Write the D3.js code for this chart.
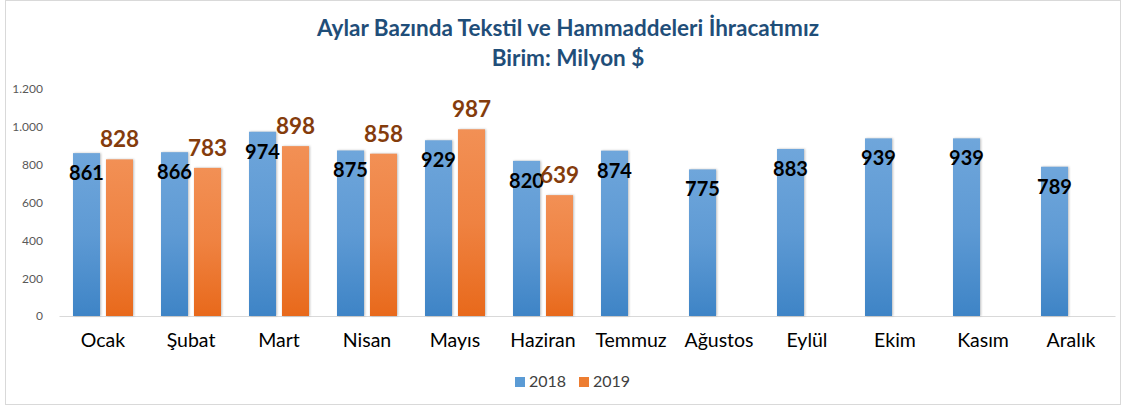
<!DOCTYPE html>
<html lang="tr">
<head>
  <meta charset="UTF-8" />
  <title>Aylar Bazında Tekstil ve Hammaddeleri İhracatımız</title>
  <script src="https://cdn.jsdelivr.net/npm/d3@7"></script>
  <style>
    body { margin: 0; background: #fff; font-family: Lato, "Open Sans", sans-serif; }
  </style>
</head>
<body>
<svg id="chart"></svg>
<script>
// chart data
const months = ["Ocak", "Şubat", "Mart", "Nisan", "Mayıs", "Haziran", "Temmuz", "Ağustos", "Eylül", "Ekim", "Kasım", "Aralık"];
const values2018 = [861, 866, 974, 875, 929, 820, 874, 775, 883, 939, 939, 789];
const values2019 = [828, 783, 898, 858, 987, 639];
const yTicks = [0, 200, 400, 600, 800, 1000, 1200];
const seriesNames = ["2018", "2019"];

const W = 1126, H = 407;
const margin = {top: 89, right: 11, bottom: 91, left: 59};

const svg = d3.select("#chart").attr("width", W).attr("height", H);

// gradients for the bars
const defs = svg.append("defs");
function grad(id, top, bottom) {
  const g = defs.append("linearGradient").attr("id", id)
    .attr("x1", 0).attr("y1", 0).attr("x2", 0).attr("y2", 1);
  g.append("stop").attr("offset", "0%").attr("stop-color", top);
  g.append("stop").attr("offset", "50%").attr("stop-color", d3.interpolateRgb(top, bottom)(0.35));
  g.append("stop").attr("offset", "100%").attr("stop-color", bottom);
}
grad("g2018", "#6fa6db", "#3e84c6");
grad("g2019", "#f29055", "#e8691b");

// outer frame
svg.append("rect").attr("x", 5.5).attr("y", 0.5).attr("width", W - 11).attr("height", H - 3)
  .attr("fill", "#fff").attr("stroke", "#d9d9d9");

const x = d3.scaleBand().domain(months).range([margin.left, W - margin.right]);
const inner = d3.scaleBand().domain(seriesNames).range([14, x.bandwidth() - 14]).paddingInner(0.18);
const y = d3.scaleLinear().domain([0, 1200]).range([H - margin.bottom, margin.top]);

// title
svg.append("text").attr("x", 568).attr("y", 36).attr("text-anchor", "middle")
  .attr("font-size", 22.5).attr("font-weight", "bold").attr("fill", "#1f4e79")
  .text("Aylar Bazında Tekstil ve Hammaddeleri İhracatımız");
svg.append("text").attr("x", 568).attr("y", 66).attr("text-anchor", "middle")
  .attr("font-size", 22.5).attr("font-weight", "bold").attr("fill", "#1f4e79")
  .text("Birim: Milyon $");

// y axis
const fmt = d3.formatLocale({decimal: ",", thousands: ".", grouping: [3]}).format(",d");
const yAxis = svg.append("g").attr("transform", `translate(46,0)`)
  .call(d3.axisLeft(y).tickValues(yTicks).tickFormat(fmt).tickSize(0));
yAxis.select(".domain").remove();
yAxis.selectAll("text").attr("fill", "#595959").attr("font-size", 12)
  .attr("font-family", "Lato, sans-serif");

// x axis
const xAxis = svg.append("g").attr("transform", `translate(0,${y(0)})`)
  .call(d3.axisBottom(x).tickSize(0).tickPadding(17));
xAxis.select(".domain").attr("stroke", "#d9d9d9");
xAxis.selectAll("text").attr("fill", "#000").attr("font-size", 19.5)
  .attr("font-family", "Lato, sans-serif");

// bars
const rows2018 = values2018.map((v, i) => ({m: months[i], s: "2018", v}));
const rows2019 = values2019.map((v, i) => ({m: months[i], s: "2019", v}));

svg.append("g").selectAll("rect").data(rows2018.concat(rows2019)).join("rect")
  .attr("x", d => x(d.m) + inner(d.s))
  .attr("y", d => y(d.v))
  .attr("width", inner.bandwidth())
  .attr("height", d => y(0) - y(d.v))
  .attr("fill", d => `url(#g${d.s})`)
  .style("filter", "drop-shadow(1px 0px 1px rgba(0,0,0,0.25))");

// labels
svg.append("g").selectAll("text").data(rows2018).join("text")
  .attr("x", d => x(d.m) + inner(d.s) + inner.bandwidth() / 2)
  .attr("y", d => y(d.v) + 27)
  .attr("text-anchor", "middle").attr("font-size", 20).attr("font-weight", "bold")
  .attr("fill", "#000").text(d => d.v);

svg.append("g").selectAll("text").data(rows2019).join("text")
  .attr("x", d => x(d.m) + inner(d.s) + inner.bandwidth() / 2)
  .attr("y", d => y(d.v) - 12)
  .attr("text-anchor", "middle").attr("font-size", 22.5).attr("font-weight", "bold")
  .attr("fill", "#843c0c").text(d => d.v);

// legend
const legend = svg.append("g").selectAll("g").data(seriesNames).join("g")
  .attr("transform", (d, i) => `translate(${515 + i * 64},377)`);
legend.append("rect").attr("width", 10).attr("height", 10)
  .attr("fill", d => d === "2018" ? "#5b9bd5" : "#ed7d31");
legend.append("text").attr("x", 14).attr("y", 10).attr("font-size", 16)
  .attr("fill", "#404040").text(d => d);
</script>
</body>
</html>
